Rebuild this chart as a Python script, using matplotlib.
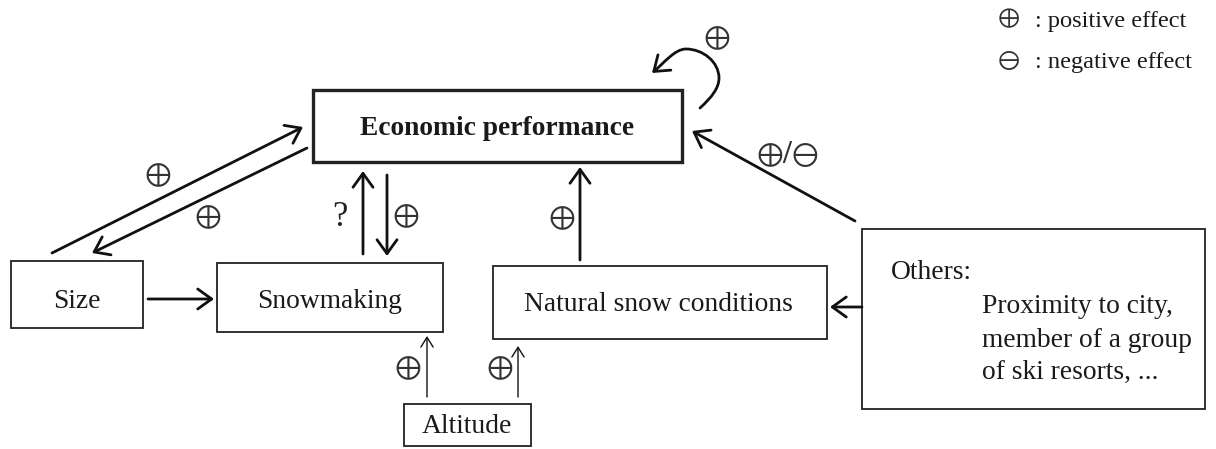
import matplotlib.pyplot as plt
from matplotlib.patches import Rectangle, FancyArrowPatch
from matplotlib.path import Path

plt.rcParams['font.family'] = ['Liberation Serif', 'DejaVu Sans']

W, H = 1216, 449

# boxes: (x0, y0, x1, y1, line width) in image pixels (y down)
boxes = [
    (313, 90, 682, 162, 2.4),   # economic performance
    (11, 261, 143, 328, 1.3),   # size
    (217, 263, 443, 332, 1.3),  # snowmaking
    (493, 266, 827, 339, 1.3),  # natural snow
    (404, 404, 531, 446, 1.3),  # altitude
    (862, 229, 1205, 409, 1.3), # others
]

# box texts: (x, baseline y, text, weight, ha)
box_texts = [
    (497, 135, "Economic performance", "bold", "center"),
    (77, 308, "Size", "normal", "center"),
    (330, 308, "Snowmaking", "normal", "center"),
    (658, 311, "Natural snow conditions", "normal", "center"),
    (467, 433, "Altitude", "normal", "center"),
    (891, 279, "Others:", "normal", "left"),
    (982, 313, "Proximity to city,", "normal", "left"),
    (982, 347, "member of a group", "normal", "left"),
    (982, 379, "of ski resorts, ...", "normal", "left"),
]

# straight arrows: (x_start, y_start, x_end, y_end, line width)
arrows = [
    (52, 253, 303, 127, 2.0),
    (307, 148, 92, 253, 2.0),
    (363, 254, 363, 171, 2.0),
    (387, 175, 387, 256, 2.0),
    (148, 299, 214, 299, 2.0),
    (580, 260, 580, 167, 2.0),
    (855, 221, 692, 131, 2.0),
    (862, 307, 830, 307, 2.0),
    (427, 397, 427, 336, 1.0),
    (518, 397, 518, 346, 1.0),
]

# self loop on economic performance (three cubic segments)
loop = [(700, 108), (712, 97), (719, 88), (719, 78),
        (719, 62), (703, 49), (686, 49),
        (675, 49), (665, 62), (652, 73)]

# effect signs: (x, y, text)
signs = [
    (158, 175, "\u2295"),
    (208, 217, "\u2295"),
    (406, 216, "\u2295"),
    (562, 218, "\u2295"),
    (408, 368, "\u2295"),
    (500, 368, "\u2295"),
    (717, 38, "\u2295"),
    (788, 155, "\u2295/\u2296"),
]

legend_items = [
    (1009, 19, 27, "\u2295", ": positive effect"),
    (1009, 61, 68, "\u2296", ": negative effect"),
]

fig = plt.figure(figsize=(W / 100, H / 100), dpi=100)
ax = fig.add_axes([0, 0, 1, 1])
ax.set_xlim(0, W)
ax.set_ylim(H, 0)
ax.axis('off')

for x0, y0, x1, y1, lw in boxes:
    ax.add_patch(Rectangle((x0, y0), x1 - x0, y1 - y0, fill=False,
                           edgecolor='#222222', linewidth=lw))

for x, y, t, wt, ha in box_texts:
    ax.text(x, y, t, fontsize=19.8, fontweight=wt, ha=ha, va='baseline',
            color='#1a1a1a')

for xs, ys, xe, ye, lw in arrows:
    style = '->,head_length=0.5,head_width=0.36' if lw > 1.5 else '->,head_length=0.35,head_width=0.22'
    ax.add_patch(FancyArrowPatch((xs, ys), (xe, ye), arrowstyle=style,
                                 mutation_scale=20, linewidth=lw,
                                 color='#111111', shrinkA=0, shrinkB=0))

codes = [Path.MOVETO] + [Path.CURVE4] * (len(loop) - 1)
ax.add_patch(FancyArrowPatch(path=Path(loop, codes),
                             arrowstyle='->,head_length=0.5,head_width=0.36',
                             mutation_scale=20, linewidth=2.0, color='#111111'))

for x, y, t in signs:
    ax.text(x, y, t, fontsize=23, ha='center', va='center', color='#333333',
            family=['STIXGeneral', 'DejaVu Sans'])
ax.text(340, 217, "?", fontsize=25, ha='center', va='center', color='#222222')

for x, yc, yb, sym, label in legend_items:
    ax.text(x, yc, sym, fontsize=19, ha='center', va='center',
            color='#333333', family=['STIXGeneral', 'DejaVu Sans'])
    ax.text(x + 26, yb, label, fontsize=17.6, ha='left', va='baseline',
            color='#1a1a1a')

fig.savefig('out.png', dpi=100)
